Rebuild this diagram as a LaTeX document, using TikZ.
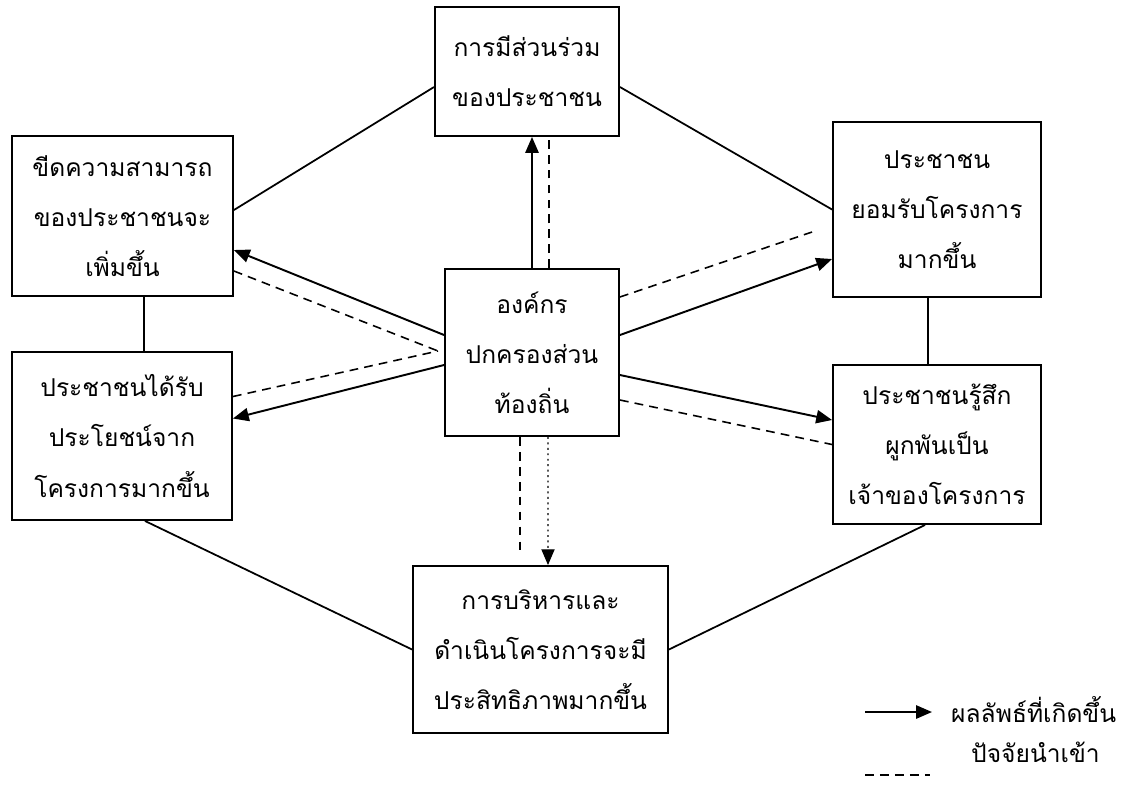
\documentclass[tikz,border=0pt]{standalone}
\usepackage{fontspec}
\newfontfamily\thaifont[Script=Thai]{Loma}
\usetikzlibrary{arrows.meta,calc}
\begin{document}
\begin{tikzpicture}[x=0.02cm,y=-0.02cm]
    \tikzset{
    box/.style={draw,line width=1.1pt,inner sep=0pt,align=center,font=\thaifont\fontsize{14}{28.5}\selectfont},
    res/.style={-{Triangle[length=9pt,width=7.5pt]},line width=1.1pt},
    fac/.style={dash pattern=on 5pt off 3.5pt,line width=0.9pt},
    ln/.style={-,line width=1pt},
    }
    \useasboundingbox (0,0) rectangle (1125,796);
    \node[box,minimum width=3.68cm,minimum height=2.58cm] (tp) at (527,71.5) {การมีส่วนร่วม\\ของประชาชน};
    \node[box,minimum width=4.42cm,minimum height=3.2cm] (lt) at (122.5,216) {ขีดความสามารถ\\ของประชาชนจะ\\เพิ่มขึ้น};
    \node[box,minimum width=4.4cm,minimum height=3.36cm] (lb) at (122,436) {ประชาชนได้รับ\\ประโยชน์จาก\\โครงการมากขึ้น};
    \node[box,minimum width=3.48cm,minimum height=3.34cm] (ct) at (532,352.5) {องค์กร\\ปกครองส่วน\\ท้องถิ่น};
    \node[box,minimum width=4.16cm,minimum height=3.5cm] (rt) at (937,209.5) {ประชาชน\\ยอมรับโครงการ\\มากขึ้น};
    \node[box,minimum width=4.16cm,minimum height=3.18cm] (rb) at (937,444.5) {ประชาชนรู้สึก\\ผูกพันเป็น\\เจ้าของโครงการ};
    \node[box,minimum width=5.1cm,minimum height=3.34cm] (bt) at (540.5,649.5) {การบริหารและ\\ดำเนินโครงการจะมี\\ประสิทธิภาพมากขึ้น};

    % outer ring
    \draw[ln] ($(lt.east)+(0,-6)$) -- ($(tp.west)+(0,15.5)$);
    \draw[ln] ($(tp.east)+(0,15.5)$) -- (rt.west);
    \draw[ln] ($(lt.south)+(21.5,0)$) -- ($(lb.north)+(22,0)$);
    \draw[ln] ($(rt.south)+(-9,0)$) -- ($(rb.north)+(-9,0)$);
    \draw[ln] ($(lb.south)+(23,0)$) -- (bt.west);
    \draw[ln] ($(rb.south)+(-12,0)$) -- (bt.east);

    % results from the centre
    \draw[res] (ct.north) -- (ct.north |- tp.south);
    \draw[res] ($(ct.west)+(0,-17.5)$) -- ($(lt.east)+(0,34)$);
    \draw[res] ($(ct.west)+(0,12.5)$) -- ($(lb.east)+(0,-17.5)$);
    \draw[res] ($(ct.east)+(0,-17.5)$) -- ($(rt.west)+(0,49.5)$);
    \draw[res] ($(ct.east)+(0,22.5)$) -- ($(rb.west)+(0,-24.5)$);
    \draw[res,dotted,line width=0.8pt] ($(ct.south)+(16,0)$) -- ($(bt.north)+(7.5,0)$);

    % input factors
    \coordinate (vl) at (438,351);
    \coordinate (vr) at (812,232);
    \coordinate (vb) at (520,550);
    \draw[fac] ($(ct.north)+(17,0)$) -- ($(tp.south)+(22,0)$);
    \draw[fac] ($(lt.east)+(0,55)$) -- (vl);
    \draw[fac] ($(lb.east)+(0,-39.5)$) -- (vl);
    \draw[fac] ($(ct.east)+(0,-55.5)$) -- (vr);
    \draw[fac] ($(ct.east)+(0,47.5)$) -- (rb.west);
    \draw[fac] ($(ct.south)+(-12,0)$) -- (vb);

    % legend
    \node[anchor=west,font=\thaifont\fontsize{14}{17}\selectfont] (k1) at (945,710) {ผลลัพธ์ที่เกิดขึ้น};
    \node[anchor=west,font=\thaifont\fontsize{14}{17}\selectfont] (k2) at (965,752) {ปัจจัยนำเข้า};
    \coordinate (k1a) at (865,712);
    \coordinate (k2a) at (865,775);
    \coordinate (k2b) at (930,775);
    \draw[res] (k1a) -- ($(k1.west)+(-13,2)$);
    \draw[fac] (k2a) -- (k2b);
\end{tikzpicture}
\end{document}
